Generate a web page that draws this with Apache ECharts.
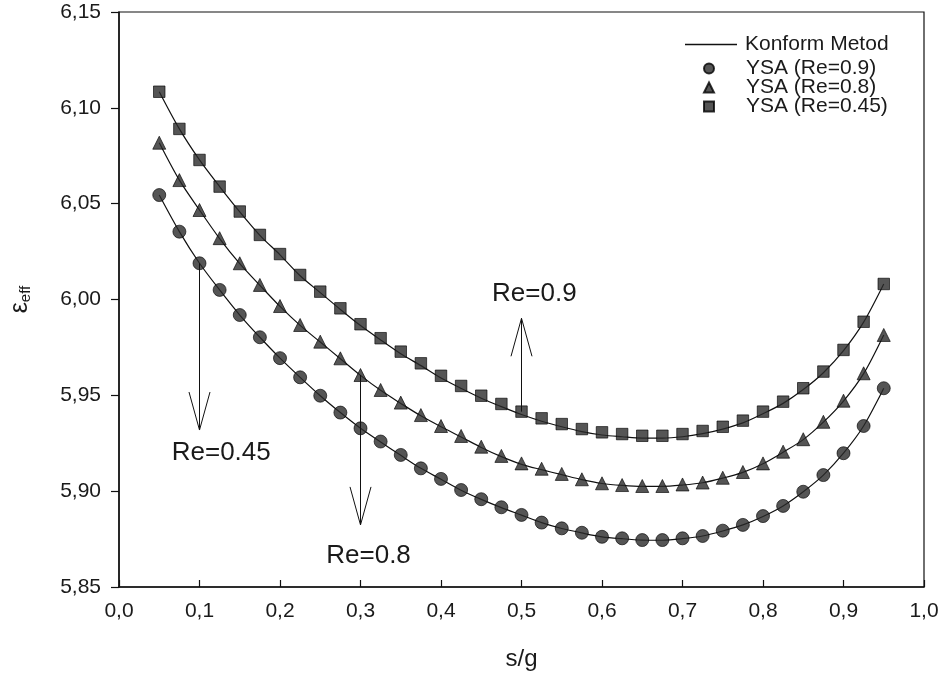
<!DOCTYPE html>
<html>
<head>
<meta charset="utf-8">
<script src="https://cdn.jsdelivr.net/npm/echarts@6/dist/echarts.min.js"></script>
<style>html,body{margin:0;padding:0;background:#fff}#c{width:944px;height:681px}</style>
</head>
<body>
<div id="c"></div>
<script>
// s/g values
const sg = [0.05,0.075,0.1,0.125,0.15,0.175,0.2,0.225,0.25,0.275,0.3,0.325,0.35,0.375,0.4,0.425,0.45,0.475,0.5,0.525,0.55,0.575,0.6,0.625,0.65,0.675,0.7,0.725,0.75,0.775,0.8,0.825,0.85,0.875,0.9,0.925,0.95];

// YSA (ANN) results
const ysaRe09 = [6.0545,6.0354,6.0189,6.0050,5.9919,5.9803,5.9694,5.9594,5.9498,5.9410,5.9328,5.9259,5.9189,5.9119,5.9064,5.9006,5.8958,5.8916,5.8876,5.8836,5.8806,5.8783,5.8762,5.8754,5.8745,5.8745,5.8754,5.8766,5.8794,5.8824,5.8870,5.8923,5.8997,5.9084,5.9198,5.9340,5.9537];
const ysaRe08 = [6.0818,6.0623,6.0467,6.0320,6.0189,6.0076,5.9966,5.9867,5.9780,5.9693,5.9606,5.9528,5.9462,5.9397,5.9340,5.9288,5.9232,5.9184,5.9145,5.9117,5.9090,5.9062,5.9041,5.9032,5.9027,5.9027,5.9035,5.9045,5.9070,5.9100,5.9145,5.9206,5.9271,5.9362,5.9472,5.9615,5.9815];
const ysaRe045 = [6.1084,6.0890,6.0728,6.0589,6.0459,6.0337,6.0237,6.0128,6.0041,5.9954,5.9871,5.9798,5.9728,5.9667,5.9602,5.9549,5.9498,5.9455,5.9415,5.9380,5.9350,5.9324,5.9307,5.9298,5.9289,5.9289,5.9298,5.9314,5.9336,5.9368,5.9415,5.9467,5.9537,5.9624,5.9737,5.9884,6.0081];

// Konform Metod (conformal mapping) curves
const konRe09 = [6.0545,6.0354,6.0189,6.0050,5.9919,5.9803,5.9694,5.9594,5.9498,5.9410,5.9328,5.9257,5.9187,5.9119,5.9062,5.9005,5.8957,5.8914,5.8875,5.8836,5.8805,5.8782,5.8762,5.8752,5.8745,5.8744,5.8752,5.8766,5.8792,5.8824,5.8868,5.8923,5.8997,5.9084,5.9198,5.9340,5.9537];
const konRe08 = [6.0818,6.0623,6.0467,6.0318,6.0187,6.0074,5.9964,5.9865,5.9778,5.9691,5.9604,5.9526,5.9458,5.9393,5.9336,5.9283,5.9228,5.9180,5.9140,5.9112,5.9086,5.9060,5.9040,5.9030,5.9025,5.9025,5.9032,5.9044,5.9068,5.9098,5.9143,5.9203,5.9269,5.9360,5.9470,5.9613,5.9815];
const konRe045 = [6.1084,6.0890,6.0728,6.0589,6.0457,6.0335,6.0233,6.0124,6.0036,5.9948,5.9864,5.9789,5.9717,5.9655,5.9590,5.9536,5.9485,5.9441,5.9400,5.9365,5.9336,5.9311,5.9293,5.9284,5.9277,5.9277,5.9284,5.9300,5.9324,5.9356,5.9404,5.9458,5.9530,5.9618,5.9733,5.9882,6.0081];

// axis ticks
const xTicks = {min: 0, max: 1, step: 0.1};
const yTicks = {min: 5.85, max: 6.15, step: 0.05};

// annotations
const arrows = [
  {x: 0.1, from: 6.0189, to: 5.9319, label: 'Re=0.45', lx: 0.127, ly: 5.9198},
  {x: 0.3, from: 5.9606, to: 5.8824, label: 'Re=0.8', lx: 0.310, ly: 5.8662},
  {x: 0.5, from: 5.9415, to: 5.9902, label: 'Re=0.9', lx: 0.516, ly: 6.0032}
];

const FONT = '"Liberation Sans", Arial, sans-serif';
const TXT = '#1a1a1a';
const pair = arr => sg.map((x, i) => [x, arr[i]]);

const chart = echarts.init(document.getElementById('c'), null, {renderer: 'canvas'});

const lineSeries = (data) => ({
  name: 'Konform Metod', type: 'line', data: pair(data), smooth: 0.3,
  showSymbol: false, symbol: 'none', silent: true,
  lineStyle: {color: '#111', width: 1.2}, itemStyle: {color: '#111'}, z: 2
});
const markerStyle = {color: '#2a2a2a', borderColor: '#000', borderWidth: 0.8};
const scatterSeries = (name, data, symbol, size) => ({
  name, type: 'scatter', data: pair(data), symbol, symbolSize: size,
  itemStyle: markerStyle, z: 3
});

chart.setOption({
  animation: false,
  backgroundColor: '#fff',
  textStyle: {fontFamily: FONT},
  grid: {left: 118.5, right: 20, top: 12, bottom: 94, show: true, borderColor: '#111', borderWidth: 1.2},
  legend: [
    {
      data: [{name: 'Konform Metod', icon: 'rect'}],
      left: 680, top: 29, itemWidth: 52, itemHeight: 1.3, itemGap: 0,
      symbolKeepAspect: false,
      textStyle: {fontSize: 21, color: TXT, fontFamily: FONT, lineHeight: 20, padding: [0, 0, 0, 3]},
      selectedMode: false
    },
    {
      data: [
        {name: 'YSA (Re=0.9)', icon: 'circle'},
        {name: 'YSA (Re=0.8)', icon: 'triangle'},
        {name: 'YSA (Re=0.45)', icon: 'rect'}
      ],
      orient: 'vertical', left: 698, top: 53, itemWidth: 10, itemHeight: 10, itemGap: -2,
      symbolKeepAspect: true,
      textStyle: {fontSize: 21, color: TXT, fontFamily: FONT, lineHeight: 18, padding: [0, 0, 0, 27]},
      selectedMode: false
    }
  ],
  xAxis: {
    type: 'value', min: xTicks.min, max: xTicks.max, interval: xTicks.step,
    name: 's/g', nameLocation: 'middle', nameGap: 60,
    nameTextStyle: {fontSize: 24, color: TXT, fontFamily: FONT},
    axisLine: {show: true, lineStyle: {color: '#111', width: 1.5}},
    axisTick: {show: true, inside: true, length: 7, lineStyle: {color: '#111', width: 1.2}},
    axisLabel: {fontSize: 21, color: TXT, margin: 14, fontFamily: FONT,
      formatter: v => v.toFixed(1).replace('.', ',')},
    splitLine: {show: false}
  },
  yAxis: {
    type: 'value', min: yTicks.min, max: yTicks.max, interval: yTicks.step,
    name: '{e|ε}{s|eff}', nameLocation: 'middle', nameRotate: 90, nameGap: 86,
    nameTextStyle: {
      color: TXT, fontFamily: FONT,
      rich: {
        e: {fontSize: 25, fontFamily: FONT, color: TXT, verticalAlign: 'bottom', lineHeight: 24},
        s: {fontSize: 15, fontFamily: FONT, color: TXT, verticalAlign: 'bottom', lineHeight: 15, padding: [10, 0, 0, 0]}
      }
    },
    axisLine: {show: true, lineStyle: {color: '#111', width: 1.5}},
    axisTick: {show: true, inside: false, length: 8, lineStyle: {color: '#111', width: 1.2}},
    axisLabel: {fontSize: 21, color: TXT, margin: 18, fontFamily: FONT,
      formatter: v => v.toFixed(2).replace('.', ',')},
    splitLine: {show: false}
  },
  series: [
    lineSeries(konRe09),
    lineSeries(konRe08),
    lineSeries(konRe045),
    scatterSeries('YSA (Re=0.9)', ysaRe09, 'circle', 13),
    scatterSeries('YSA (Re=0.8)', ysaRe08, 'triangle', 13),
    scatterSeries('YSA (Re=0.45)', ysaRe045, 'rect', 11.5)
  ]
});

// arrows & labels
const gfx = [];
arrows.forEach(a => {
  const p0 = chart.convertToPixel({gridIndex: 0}, [a.x, a.from]);
  const p1 = chart.convertToPixel({gridIndex: 0}, [a.x, a.to]);
  const dir = p1[1] > p0[1] ? 1 : -1;
  const wingY = p1[1] - dir * 38;
  gfx.push({type: 'line', shape: {x1: p0[0], y1: p0[1], x2: p1[0], y2: p1[1]}, style: {stroke: '#111', lineWidth: 1}, z: 10});
  gfx.push({type: 'polyline', shape: {points: [[p1[0] - 10.5, wingY], [p1[0], p1[1]], [p1[0] + 10.5, wingY]]}, style: {stroke: '#111', lineWidth: 1, fill: null}, z: 10});
  const pl = chart.convertToPixel({gridIndex: 0}, [a.lx, a.ly]);
  gfx.push({type: 'text', x: pl[0], y: pl[1], style: {text: a.label, font: '26px ' + FONT, fill: TXT, align: 'center', verticalAlign: 'middle'}, z: 10});
});
chart.setOption({graphic: gfx});
</script>
</body>
</html>
